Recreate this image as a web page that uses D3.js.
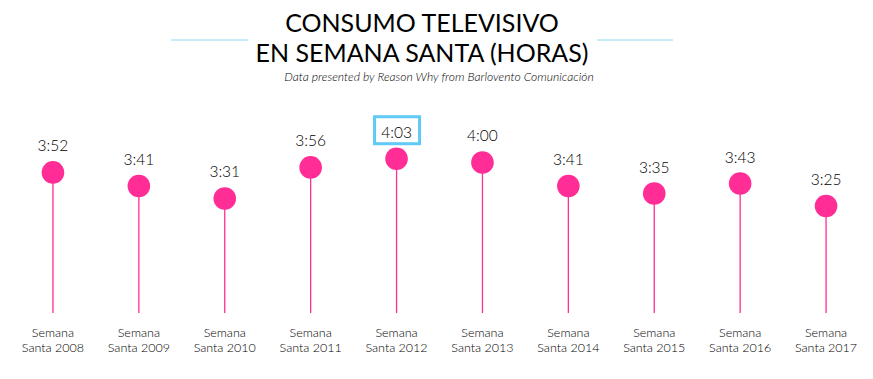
<!DOCTYPE html>
<html><head><meta charset="utf-8">
<script src="https://cdn.jsdelivr.net/npm/d3@7"></script>
<style>body{margin:0;background:#fff}</style>
</head><body>
<script>
const categories = ["2008","2009","2010","2011","2012","2013","2014","2015","2016","2017"];
const labels = ["3:52","3:41","3:31","3:56","4:03","4:00","3:41","3:35","3:43","3:25"];
const minutes = [232,221,211,236,243,240,221,215,223,205];
const highlight = "2012";

const W = 873, H = 379;
const svg = d3.select("body").append("svg").attr("width", W).attr("height", H);

const x = d3.scaleBand().domain(categories).range([10, 869]).padding(0);
const y = d3.scaleLinear().domain([180, 260]).range([237, 137.6]);
const base = 313;
const pink = "#ff2d95";
const font = "Lato, 'Open Sans', sans-serif";

// title
const tg = svg.append("g").attr("font-family", font).attr("fill", "#000");
tg.append("text").attr("x", 422).attr("y", 32).attr("text-anchor", "middle").attr("font-size", 25).attr("font-weight", 400).text("CONSUMO TELEVISIVO");
tg.append("text").attr("x", 422).attr("y", 62).attr("text-anchor", "middle").attr("font-size", 25).attr("font-weight", 400).text("EN SEMANA SANTA (HORAS)");
tg.append("text").attr("x", 439).attr("y", 81).attr("text-anchor", "middle").attr("font-size", 12.1).attr("font-style", "italic").attr("font-weight", 300).attr("fill", "#000").text("Data presented by Reason Why from Barlovento Comunicación");
svg.append("line").attr("x1", 171).attr("x2", 248).attr("y1", 40).attr("y2", 40).attr("stroke", "#8adcf6").attr("stroke-width", 1);
svg.append("line").attr("x1", 597).attr("x2", 673).attr("y1", 40).attr("y2", 40).attr("stroke", "#8adcf6").attr("stroke-width", 1);

const g = svg.append("g");
const cx = c => x(c) + x.bandwidth() / 2;

g.selectAll("line.stem").data(categories).join("line").attr("class", "stem")
  .attr("x1", cx).attr("x2", cx)
  .attr("y1", (c, i) => y(minutes[i])).attr("y2", base)
  .attr("stroke", pink).attr("stroke-width", 1.3);

g.selectAll("circle").data(categories).join("circle")
  .attr("cx", cx).attr("cy", (c, i) => y(minutes[i])).attr("r", 11.3)
  .attr("fill", pink);

g.selectAll("text.val").data(categories).join("text").attr("class", "val")
  .attr("x", cx).attr("y", (c, i) => y(minutes[i]) - 21)
  .attr("text-anchor", "middle").attr("font-family", font).attr("font-weight", 300).attr("font-size", 15.5).attr("fill", "#000")
  .text((c, i) => labels[i]);

const hi = categories.indexOf(highlight);
g.append("rect").attr("x", cx(highlight) - 22).attr("y", y(minutes[hi]) - 42).attr("width", 45).attr("height", 27)
  .attr("fill", "none").attr("stroke", "#5fcaf5").attr("stroke-width", 3);

const xl = g.selectAll("text.cat").data(categories).join("text").attr("class", "cat")
  .attr("text-anchor", "middle").attr("font-family", font).attr("font-weight", 300).attr("font-size", 12.5).attr("fill", "#000");
xl.append("tspan").attr("x", cx).attr("y", 337).text("Semana");
xl.append("tspan").attr("x", cx).attr("y", 352).text(c => "Santa " + c);
</script>
</body></html>
